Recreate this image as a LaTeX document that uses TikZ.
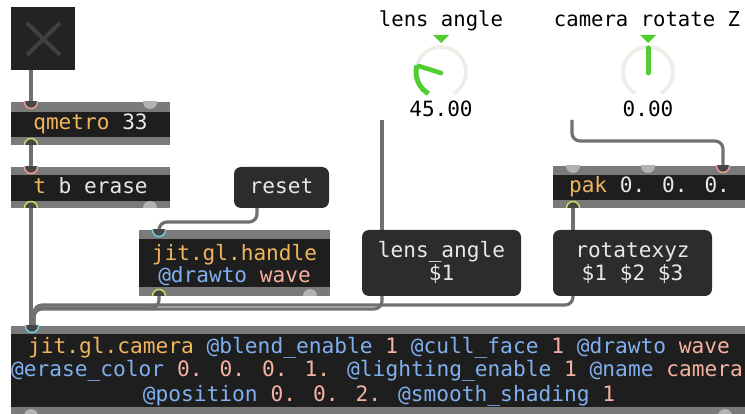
\documentclass[tikz,border=0pt]{standalone}
\usepackage{fontspec}
\newfontfamily\maxfont{DejaVu Sans Mono}
\definecolor{cablec}{RGB}{112,112,112}
\definecolor{barc}{RGB}{122,122,122}
\definecolor{bandc}{RGB}{30,30,30}
\definecolor{msgc}{RGB}{44,44,44}
\definecolor{togc}{RGB}{35,35,35}
\definecolor{togx}{RGB}{64,64,64}
\definecolor{namec}{RGB}{240,182,92}
\definecolor{attrc}{RGB}{128,176,240}
\definecolor{valc}{RGB}{246,178,160}
\definecolor{plainc}{RGB}{232,232,232}
\definecolor{portg}{RGB}{178,178,178}
\definecolor{ringin}{RGB}{240,160,148}
\definecolor{ringout}{RGB}{215,222,96}
\definecolor{ringcy}{RGB}{120,205,230}
\definecolor{ringfill}{RGB}{70,70,70}
\definecolor{track}{RGB}{238,238,230}
\definecolor{dialg}{RGB}{80,206,48}
\begin{document}
\begin{tikzpicture}[x=1pt,y=-1pt,
  cable/.style={draw=cablec, line width=3.2pt, rounded corners=8pt},
  objbox/.style={anchor=north west, inner sep=0pt, outer sep=0pt, fill=barc, draw=none},
  msgbox/.style={anchor=north west, inner sep=0pt, outer sep=0pt, fill=msgc, rounded corners=7pt},
  txt/.style={font=\maxfont\fontsize{21.1}{23}\selectfont, inner sep=0pt, anchor=base, text=plainc},
  camtxt/.style={txt, font=\maxfont\fontsize{21.2}{23}\selectfont},
  lbl/.style={font=\maxfont\fontsize{20.6}{23}\selectfont, inner sep=0pt, anchor=base, text=black},
  numlbl/.style={font=\maxfont\fontsize{21}{23}\selectfont, inner sep=0pt, anchor=base, text=black},
  band/.style={fill=bandc},
  ring/.style={fill=ringfill, line width=1.4pt},
  gport/.style={fill=portg},
 ]
\useasboundingbox (0,0) rectangle (745,414);
\clip (0,0) rectangle (745,414);

% ---- port coordinates ----
\coordinate (tog-out) at (31,70);
\coordinate (qm-in) at (31,102);
\coordinate (qm-out) at (31,145);
\coordinate (tbe-in) at (31,167);
\coordinate (tbe-out) at (31,208);
\coordinate (reset-out) at (257,208);
\coordinate (hdl-in) at (159,230);
\coordinate (hdl-out) at (159,296);
\coordinate (lensdial-out) at (382,120);
\coordinate (lensmsg-in) at (382,230);
\coordinate (lensmsg-out) at (382,296);
\coordinate (rotdial-out) at (572,120);
\coordinate (pak-in3) at (723,166);
\coordinate (pak-out) at (573,208);
\coordinate (rotmsg-in) at (573,230);
\coordinate (rotmsg-out) at (573,296);
\coordinate (cam-in) at (32,326);

% ---- patch cords ----
\draw[cable] (tog-out) -- (qm-in);
\draw[cable] (qm-out) -- (tbe-in);
\draw[cable] (tbe-out) -- (31,326);
\draw[cable] (reset-out) -- (257,222) -- (159,222) -- (hdl-in);
\draw[cable] (rotmsg-out) -- (573,305) -- (34,305) -- (34,326);
\draw[cable] (lensmsg-out) -- (382,309) -- (34,309) -- (34,326);
\draw[cable] (hdl-out) -- (159,308) -- (33,308) -- (cam-in);
\draw[cable] (lensdial-out) -- (lensmsg-in);
\draw[cable] (rotdial-out) -- (572,141) -- (723,141) -- (pak-in3);
\draw[cable] (pak-out) -- (rotmsg-in);

% ---- toggle ----
\node[objbox, fill=togc, minimum width=64, minimum height=63] (toggle) at (11,7) {};
\draw[togx, line width=4pt] (27,23) -- (60,55) (60,23) -- (27,55);

% ---- qmetro 33 ----
\node[objbox, minimum width=159, minimum height=43] (qmetro) at (11,102) {};
\fill[band] (11,112) rectangle (170,137);
\begin{scope}
  \clip (11,102) rectangle (170,145);
  \filldraw[ring, draw=ringin] (qm-in) circle (6.5);
  \fill[gport] (150,102) circle (7);
  \filldraw[ring, draw=ringout] (qm-out) circle (6.5);
\end{scope}
\node[txt] (qmetro-t) at (90.5,130) {\textcolor{namec}{qmetro} 33};

% ---- t b erase ----
\node[objbox, minimum width=159, minimum height=41] (tbe) at (11,167) {};
\fill[band] (11,175) rectangle (170,201);
\begin{scope}
  \clip (11,167) rectangle (170,208);
  \filldraw[ring, draw=ringin] (tbe-in) circle (6.5);
  \fill[gport] (150,208) circle (7);
  \filldraw[ring, draw=ringout] (tbe-out) circle (6.5);
\end{scope}
\node[txt] (tbe-t) at (90.5,194) {\textcolor{namec}{t} b erase};

% ---- reset message ----
\node[msgbox, minimum width=95, minimum height=41] (reset) at (234,167) {};
\node[txt] (reset-t) at (281.5,194) {reset};

% ---- jit.gl.handle ----
\node[objbox, minimum width=191, minimum height=66] (handle) at (139,230) {};
\fill[band] (139,239) rectangle (330,287);
\begin{scope}
  \clip (139,230) rectangle (330,296);
  \filldraw[ring, draw=ringcy] (hdl-in) circle (6.5);
  \fill[gport] (310,296) circle (7);
  \filldraw[ring, draw=ringout] (hdl-out) circle (6.5);
\end{scope}
\node[txt] (handle-t1) at (234.5,261) {\textcolor{namec}{jit.gl.handle}};
\node[txt] (handle-t2) at (234.5,283) {\textcolor{attrc}{@drawto} \textcolor{valc}{wave}};

% ---- lens_angle message ----
\node[msgbox, minimum width=159, minimum height=66] (lensmsg) at (362,230) {};
\node[txt] (lensmsg-t1) at (441.5,258) {lens\_angle};
\node[txt] (lensmsg-t2) at (441.5,281) {\$1};

% ---- rotatexyz message ----
\node[msgbox, minimum width=159, minimum height=66] (rotmsg) at (553,230) {};
\node[txt] (rotmsg-t1) at (632.5,258) {rotatexyz};
\node[txt] (rotmsg-t2) at (632.5,281) {\$1 \$2 \$3};

% ---- pak 0. 0. 0. ----
\node[objbox, minimum width=193, minimum height=42] (pak) at (553,166) {};
\fill[band] (553,175) rectangle (746,200);
\begin{scope}
  \clip (553,166) rectangle (746,208);
  \fill[gport] (573,166) circle (7);
  \fill[gport] (648,166) circle (7);
  \filldraw[ring, draw=ringin] (pak-in3) circle (6.5);
  \filldraw[ring, draw=ringout] (pak-out) circle (6.5);
\end{scope}
\node[txt] (pak-t) at (649.5,193) {\textcolor{namec}{pak} 0. 0. 0.};

% ---- jit.gl.camera ----
\node[objbox, minimum width=736, minimum height=90] (camera) at (11,326) {};
\fill[band] (11,334) rectangle (747,407);
\begin{scope}
  \clip (11,326) rectangle (747,416);
  \filldraw[ring, draw=ringcy] (cam-in) circle (6.5);
  \fill[gport] (31,416) circle (7);
  \fill[gport] (725,416) circle (7);
\end{scope}
\node[camtxt] (camera-t1) at (379,354) {\textcolor{namec}{jit.gl.camera} \textcolor{attrc}{@blend\_enable} \textcolor{valc}{1} \textcolor{attrc}{@cull\_face} \textcolor{valc}{1} \textcolor{attrc}{@drawto} \textcolor{valc}{wave}};
\node[camtxt] (camera-t2) at (377,377) {\textcolor{attrc}{@erase\_color} \textcolor{valc}{0. 0. 0. 1.} \textcolor{attrc}{@lighting\_enable} \textcolor{valc}{1} \textcolor{attrc}{@name} \textcolor{valc}{camera}};
\node[camtxt] (camera-t3) at (379,401) {\textcolor{attrc}{@position} \textcolor{valc}{0. 0. 2.} \textcolor{attrc}{@smooth\_shading} \textcolor{valc}{1}};

% ---- lens angle dial ----
\node[lbl] (lens-lbl) at (441,27) {lens angle};
\fill[dialg] (433,35) -- (449,35) -- (441,43) -- cycle;
\begin{scope}[shift={(441,72)}, yscale=-1]
  \draw[track, line width=3.6pt] (240:25) arc[start angle=240, end angle=-60, radius=25];
  \draw[dialg, line width=5pt] (240:25) arc[start angle=240, end angle=165, radius=25];
  \draw[dialg, line width=4.6pt, line cap=round] (0,-1) -- (165:23);
\end{scope}
\node[numlbl] (lens-val) at (441,117) {45.00};

% ---- camera rotate Z dial ----
\node[lbl] (rot-lbl) at (647,27) {camera rotate Z};
\fill[dialg] (640,35) -- (656,35) -- (648,43) -- cycle;
\begin{scope}[shift={(648,72)}, yscale=-1]
  \draw[track, line width=3.6pt] (240:25) arc[start angle=240, end angle=-60, radius=25];
  \draw[dialg, line width=5pt, line cap=round] (0,-1) -- (90:24);
\end{scope}
\node[numlbl] (rot-val) at (648,117) {0.00};
\end{tikzpicture}
\end{document}
